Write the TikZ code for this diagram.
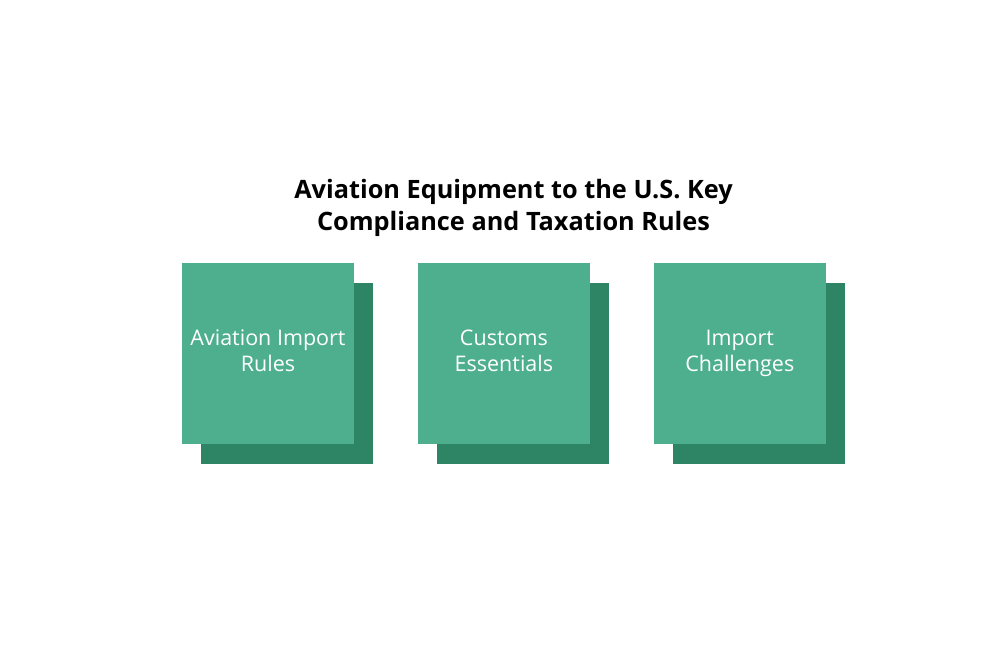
\documentclass[tikz,border=0pt]{standalone}
\usepackage{fontspec}
\setmainfont{Open Sans}
\usetikzlibrary{positioning,shadows}
\definecolor{cardgreen}{HTML}{4EAF8F}
\definecolor{shadegreen}{HTML}{2E8566}
\newcommand{\cardtop}{\rule{0pt}{37pt}}
\newcommand{\cardbot}{\rule[-6pt]{0pt}{6pt}}

\begin{document}
\begin{tikzpicture}[
  x=1pt, y=-1pt,
  node distance=63.5pt,
  card/.style={fill=cardgreen, minimum width=172pt, minimum height=181pt, inner sep=0pt,
    align=center, text=white, font=\fontsize{21.5}{26}\selectfont,
    execute at begin node=\cardtop, execute at end node=\cardbot,
    drop shadow={shadow xshift=19pt, shadow yshift=-20pt, fill=shadegreen, opacity=1}},
  heading/.style={align=center, font=\bfseries\fontsize{25.3}{32}\selectfont}
]
\useasboundingbox (0,0) rectangle (998,652);
\node[heading] (title) at (513.5,208) {Aviation Equipment to the U.S. Key\\Compliance and Taxation Rules};
\node[card] (rules) at (268,353.5) {Aviation Import\\Rules};
\node[card, right=of rules] (customs) {Customs\\Essentials};
\node[card, right=of customs] (challenges) {Import\\Challenges};
\end{tikzpicture}
\end{document}
